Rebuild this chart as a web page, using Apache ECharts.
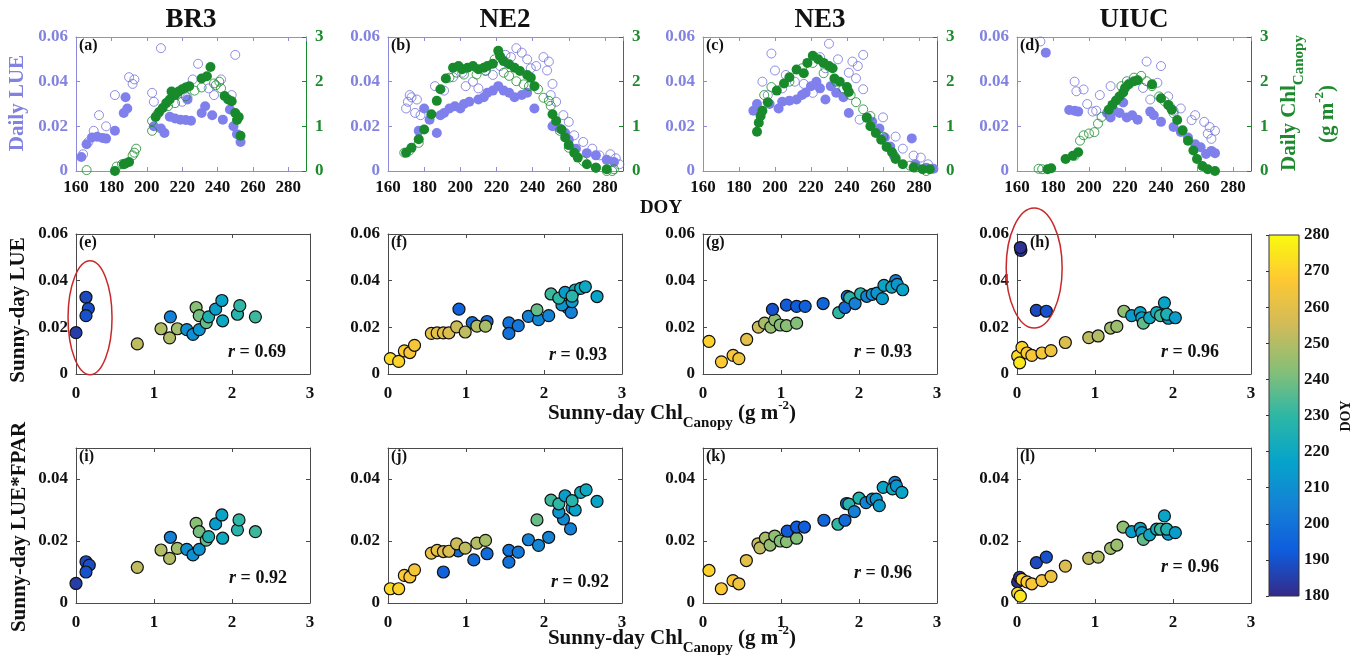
<!DOCTYPE html>
<html><head><meta charset="utf-8">
<script src="https://cdn.jsdelivr.net/npm/echarts@6/dist/echarts.min.js"></script>
<style>html,body{margin:0;padding:0;background:#fff}#c{width:1364px;height:659px}</style>
</head><body><div id="c"></div>
<script>
// ---------------- DATA ----------------
const SITES = ['BR3', 'NE2', 'NE3', 'UIUC'];
const PANEL_LETTERS = ['(a)','(b)','(c)','(d)','(e)','(f)','(g)','(h)','(i)','(j)','(k)','(l)'];
const R_MID = ['0.69', '0.93', '0.93', '0.96'];
const R_BOT = ['0.92', '0.92', '0.96', '0.96'];
const DOY_RANGE = [160, 290];
const CBAR_RANGE = [180, 280];

// top row: [DOY, value]
const BR3_LUE_SUNNY = [[163,0.0063],[166,0.012],[169,0.0150],[172,0.0153],[175,0.0148],[177,0.0145],[182,0.018],[187,0.026],[188,0.033],[189,0.028],[204,0.020],[208,0.019],[210,0.017],[213,0.0243],[216,0.0235],[219,0.023],[222,0.0228],[225,0.0225],[223,0.032],[231,0.026],[233,0.029],[237,0.025],[243,0.023],[247,0.0275],[249,0.020],[251,0.0165],[253,0.013]];
const BR3_LUE_CLOUDY = [[164,0.0075],[167,0.013],[170,0.018],[173,0.025],[177,0.020],[182,0.034],[190,0.042],[192,0.039],[193,0.041],[203,0.035],[204,0.031],[208,0.055],[217,0.034],[220,0.031],[223,0.033],[226,0.041],[229,0.048],[235,0.037],[238,0.034],[242,0.041],[248,0.034],[250,0.052]];
const BR3_CHL_SUNNY = [[182,0.0],[187,0.15],[188,0.17],[190,0.2],[205,1.21],[207,1.32],[209,1.41],[211,1.52],[213,1.6],[214,1.78],[216,1.7],[218,1.78],[220,1.83],[222,1.87],[224,1.9],[231,2.07],[234,2.12],[236,2.33],[244,1.68],[246,1.6],[248,1.56],[250,1.3],[251,1.14],[252,1.21],[253,0.79]];
const BR3_CHL_CLOUDY = [[166,0.02],[183,0.1],[186,0.15],[192,0.35],[193,0.41],[194,0.5],[203,0.9],[203,1.12],[206,1.27],[212,1.45],[216,1.52],[222,1.67],[227,1.8],[231,1.87],[238,1.96],[239,1.92],[241,2.0],[242,1.85]];

const NE2_LUE_SUNNY = [[177,0.018],[180,0.028],[183,0.023],[187,0.017],[189,0.025],[191,0.026],[194,0.028],[197,0.029],[200,0.028],[202,0.030],[205,0.031],[210,0.032],[213,0.033],[215,0.035],[218,0.036],[221,0.038],[224,0.036],[227,0.035],[230,0.033],[234,0.034],[237,0.035],[241,0.028],[251,0.020],[255,0.019],[258,0.017],[260,0.014],[264,0.010],[270,0.008],[275,0.007],[281,0.005],[285,0.004]];
const NE2_LUE_CLOUDY = [[170,0.028],[171,0.031],[172,0.034],[173,0.033],[175,0.026],[176,0.032],[178,0.025],[186,0.038],[191,0.036],[196,0.042],[201,0.044],[203,0.038],[207,0.040],[210,0.037],[214,0.045],[218,0.043],[222,0.047],[225,0.052],[228,0.051],[231,0.055],[234,0.053],[237,0.050],[239,0.046],[242,0.047],[246,0.051],[248,0.045],[249,0.049],[250,0.034],[251,0.039],[253,0.031],[257,0.025],[260,0.022],[263,0.016],[268,0.013],[273,0.010],[277,0.007],[283,0.0075],[286,0.0057],[288,0.003]];
const NE2_CHL_SUNNY = [[170,0.41],[173,0.52],[177,0.71],[180,0.93],[184,1.27],[187,1.57],[189,1.83],[192,2.07],[196,2.31],[199,2.35],[201,2.28],[204,2.31],[207,2.35],[210,2.28],[213,2.31],[215,2.35],[218,2.4],[221,2.69],[222,2.57],[224,2.46],[227,2.39],[230,2.31],[233,2.24],[237,2.15],[239,2.09],[241,1.9],[251,1.27],[253,1.12],[256,0.93],[258,0.75],[260,0.58],[263,0.41],[265,0.3],[270,0.15],[275,0.075],[281,0.04]];
const NE2_CHL_CLOUDY = [[169,0.41],[172,0.46],[177,0.63],[194,2.09],[198,2.2],[202,2.16],[209,2.16],[214,2.24],[219,2.5],[224,2.2],[227,2.13],[231,2.01],[235,1.94],[238,1.9],[243,1.83],[246,1.64],[249,1.57],[250,1.46],[255,0.9],[260,0.52],[268,0.22],[275,0.075],[281,0.0],[284,0.0],[285,0.04]];

const NE3_LUE_SUNNY = [[188,0.027],[190,0.030],[197,0.030],[202,0.028],[204,0.031],[208,0.0315],[212,0.032],[215,0.034],[217,0.035],[220,0.038],[223,0.040],[225,0.037],[228,0.032],[231,0.038],[234,0.035],[238,0.033],[241,0.026],[251,0.024],[254,0.022],[258,0.019],[261,0.015],[264,0.011],[266,0.007],[276,0.0146],[278,0.003],[284,0.0015],[288,0.001]];
const NE3_LUE_CLOUDY = [[193,0.040],[196,0.034],[198,0.0526],[200,0.045],[204,0.037],[206,0.043],[211,0.040],[216,0.039],[221,0.035],[225,0.051],[228,0.046],[230,0.057],[235,0.050],[241,0.044],[243,0.049],[245,0.0415],[246,0.047],[247,0.023],[249,0.0366],[249,0.052],[260,0.024],[267,0.0154],[271,0.010],[277,0.0069],[281,0.006],[285,0.003]];
const NE3_CHL_SUNNY = [[190,0.88],[191,1.08],[192,1.23],[193,1.35],[196,1.54],[201,1.8],[205,1.96],[208,2.1],[212,2.27],[216,2.19],[218,2.42],[221,2.58],[224,2.5],[227,2.42],[230,2.35],[232,2.3],[233,2.07],[236,2.0],[240,1.88],[241,1.77],[251,1.19],[253,1.0],[256,0.85],[259,0.7],[262,0.54],[265,0.42],[267,0.27],[271,0.15],[277,0.08],[282,0.04],[286,0.04]];
const NE3_CHL_CLOUDY = [[194,1.7],[198,1.88],[208,2.0],[215,2.3],[221,2.42],[227,2.19],[234,2.0],[238,1.85],[242,1.7],[245,1.54],[249,1.38],[253,1.23],[260,0.77],[267,0.3],[275,0.12],[278,0.08],[284,0.0]];

const UIUC_LUE_SUNNY = [[176,0.053],[189,0.0273],[192,0.027],[194,0.0266],[210,0.026],[212,0.024],[214,0.027],[217,0.026],[219,0.0307],[221,0.024],[224,0.025],[227,0.023],[234,0.0266],[236,0.025],[240,0.022],[247,0.0197],[251,0.0175],[255,0.015],[259,0.012],[262,0.0106],[265,0.0076],[268,0.009],[270,0.008]];
const UIUC_LUE_CLOUDY = [[173,0.058],[192,0.040],[193,0.0357],[197,0.0365],[199,0.030],[202,0.0266],[204,0.027],[206,0.034],[212,0.038],[223,0.0395],[230,0.0372],[232,0.049],[234,0.032],[238,0.0395],[240,0.047],[244,0.0334],[247,0.027],[251,0.028],[257,0.0228],[259,0.025],[264,0.022],[266,0.0167],[267,0.0197],[268,0.0144],[270,0.018]];
const UIUC_CHL_SUNNY = [[177,0.04],[179,0.06],[187,0.27],[191,0.34],[194,0.42],[211,1.37],[213,1.48],[215,1.58],[217,1.67],[219,1.76],[220,1.86],[222,1.94],[225,2.01],[227,2.03],[235,1.94],[240,1.63],[244,1.48],[246,1.37],[249,1.14],[252,0.91],[255,0.68],[258,0.46],[260,0.27],[263,0.11],[266,0.04],[270,0.0]];
const UIUC_CHL_CLOUDY = [[172,0.05],[174,0.04],[192,0.34],[195,0.68],[197,0.8],[200,0.84],[203,0.87],[205,1.06],[207,1.21],[218,1.9],[221,2.01],[225,2.09],[229,2.13],[232,2.01],[235,1.9],[239,1.67],[242,1.56],[245,1.44],[247,1.29]];

// middle row: [Chl, sunny LUE, DOY]
const BR3_SUNNY_LUE = [[0.0,0.0177,185],[0.128,0.0329,188],[0.158,0.028,189],[0.128,0.025,190],[0.786,0.0129,252],[1.09,0.0194,250],[1.2,0.0155,250],[1.3,0.0194,247],[1.21,0.0245,205],[1.42,0.019,210],[1.5,0.017,210],[1.58,0.019,212],[1.54,0.0285,243],[1.58,0.025,240],[1.67,0.022,238],[1.7,0.0245,225],[1.79,0.0278,215],[1.87,0.0315,218],[1.88,0.0228,220],[2.07,0.0256,228],[2.1,0.0293,230],[2.3,0.0245,232]];
const NE2_SUNNY_LUE = [[0.03,0.0066,272],[0.137,0.0054,270],[0.21,0.0099,268],[0.28,0.0092,266],[0.34,0.0123,265],[0.556,0.0174,262],[0.63,0.0176,261],[0.71,0.0176,260],[0.78,0.0176,258],[0.91,0.0278,195],[1.08,0.022,198],[1.27,0.0225,198],[0.88,0.0202,254],[0.99,0.018,252],[1.14,0.0205,250],[1.25,0.0205,248],[1.55,0.0219,200],[1.55,0.0174,200],[1.67,0.0207,202],[1.8,0.0247,205],[1.93,0.0233,207],[2.06,0.025,206],[1.91,0.0275,238],[2.31,0.0282,208],[2.35,0.0264,205],[2.23,0.0296,212],[2.36,0.031,214],[2.09,0.0343,232],[2.19,0.0325,230],[2.27,0.035,215],[2.4,0.036,220],[2.47,0.0367,222],[2.53,0.0374,220],[2.36,0.0334,228],[2.68,0.0332,218]];
const NE3_SUNNY_LUE = [[0.077,0.014,270],[0.236,0.0052,268],[0.386,0.008,266],[0.46,0.0066,264],[0.56,0.0148,260],[0.71,0.0201,254],[0.79,0.0218,248],[0.87,0.0201,245],[0.92,0.0232,244],[0.99,0.021,242],[1.07,0.0207,243],[1.2,0.0218,242],[0.89,0.0277,190],[1.07,0.0295,192],[1.2,0.029,193],[1.31,0.029,194],[1.54,0.0302,196],[1.74,0.0263,230],[1.82,0.0285,198],[1.85,0.0333,200],[1.88,0.0327,228],[1.95,0.0302,205],[2.02,0.0344,227],[2.1,0.0333,206],[2.17,0.0341,210],[2.23,0.0347,212],[2.3,0.0323,214],[2.47,0.04,205],[2.32,0.038,218],[2.42,0.0372,220],[2.49,0.0384,212],[2.56,0.0361,218]];
const UIUC_SUNNY_LUE = [[0.05,0.053,183],[0.043,0.0542,182],[0.248,0.0273,188],[0.376,0.0269,190],[0.0085,0.0077,272],[0.034,0.0048,275],[0.064,0.0114,270],[0.128,0.009,268],[0.19,0.008,266],[0.32,0.009,265],[0.436,0.01,263],[0.62,0.0135,258],[0.92,0.0156,252],[1.04,0.0163,250],[1.2,0.0197,247],[1.28,0.0204,246],[1.37,0.0269,244],[1.47,0.025,215],[1.58,0.0263,218],[1.6,0.0241,216],[1.62,0.0218,237],[1.7,0.0241,220],[1.79,0.0263,222],[1.84,0.025,232],[1.89,0.0305,218],[1.94,0.0239,215],[1.92,0.0256,225],[2.03,0.0241,215]];

// bottom row: [Chl, sunny LUE*FPAR, DOY]
const BR3_SUNNY_LUEFPAR = [[0.0,0.0063,185],[0.128,0.0133,188],[0.17,0.0122,189],[0.128,0.010,190],[0.786,0.0115,252],[1.09,0.0171,250],[1.2,0.0144,250],[1.3,0.0176,247],[1.21,0.0212,205],[1.42,0.0173,210],[1.5,0.0155,210],[1.58,0.0173,212],[1.54,0.0257,243],[1.58,0.023,240],[1.67,0.0203,238],[1.7,0.0214,225],[1.79,0.0255,215],[1.87,0.0284,218],[1.88,0.0209,220],[2.07,0.0236,228],[2.09,0.0268,230],[2.3,0.023,232]];
const NE2_SUNNY_LUEFPAR = [[0.03,0.0046,272],[0.137,0.0046,270],[0.21,0.0089,268],[0.28,0.0084,266],[0.34,0.0107,265],[0.9,0.0168,198],[0.556,0.0161,262],[0.63,0.017,261],[0.71,0.0166,260],[0.78,0.0167,258],[0.88,0.0191,254],[0.99,0.0177,252],[1.14,0.0193,250],[1.25,0.0202,248],[0.71,0.010,195],[1.1,0.0139,198],[1.27,0.0159,198],[1.55,0.017,200],[1.55,0.0132,200],[1.67,0.0164,202],[1.8,0.0204,205],[1.93,0.0186,207],[2.06,0.0212,206],[1.91,0.0268,238],[2.34,0.0239,205],[2.25,0.0271,208],[2.19,0.0293,212],[2.36,0.0307,214],[2.4,0.030,218],[2.09,0.0332,232],[2.19,0.032,230],[2.27,0.0346,215],[2.47,0.0357,222],[2.54,0.0365,220],[2.36,0.033,228],[2.68,0.0328,218]];
const NE3_SUNNY_LUEFPAR = [[0.077,0.0105,270],[0.235,0.0046,268],[0.385,0.0072,266],[0.46,0.0062,264],[0.556,0.0137,260],[0.705,0.0191,254],[0.73,0.0178,252],[0.8,0.0209,248],[0.86,0.0187,245],[0.92,0.0216,244],[0.99,0.020,242],[1.07,0.0198,243],[1.2,0.0209,242],[1.08,0.0232,192],[1.2,0.0245,193],[1.3,0.0245,194],[1.55,0.0267,196],[1.73,0.0254,230],[1.82,0.0267,198],[1.84,0.0321,200],[1.87,0.0319,228],[1.94,0.0295,205],[2.0,0.0338,227],[2.09,0.0324,206],[2.17,0.0335,210],[2.22,0.0335,212],[2.26,0.0314,214],[2.46,0.0389,205],[2.31,0.0373,218],[2.43,0.0368,220],[2.48,0.0378,212],[2.55,0.0357,218]];
const UIUC_SUNNY_LUEFPAR = [[0.0085,0.0068,182],[0.034,0.0083,183],[0.248,0.013,188],[0.376,0.0148,190],[0.0085,0.0032,272],[0.043,0.0022,275],[0.064,0.0076,270],[0.128,0.0068,268],[0.19,0.0062,266],[0.32,0.0072,265],[0.436,0.0086,263],[0.62,0.0119,258],[0.92,0.0144,252],[1.04,0.0148,250],[1.2,0.0176,247],[1.28,0.0187,246],[1.36,0.0245,244],[1.47,0.023,215],[1.58,0.0241,218],[1.6,0.0227,216],[1.62,0.0205,237],[1.7,0.022,220],[1.79,0.0238,222],[1.84,0.0238,232],[1.89,0.0281,218],[1.94,0.0222,215],[1.92,0.0238,225],[2.03,0.0227,215]];

const LUE_SUNNY = [BR3_LUE_SUNNY, NE2_LUE_SUNNY, NE3_LUE_SUNNY, UIUC_LUE_SUNNY];
const LUE_CLOUDY = [BR3_LUE_CLOUDY, NE2_LUE_CLOUDY, NE3_LUE_CLOUDY, UIUC_LUE_CLOUDY];
const CHL_SUNNY = [BR3_CHL_SUNNY, NE2_CHL_SUNNY, NE3_CHL_SUNNY, UIUC_CHL_SUNNY];
const CHL_CLOUDY = [BR3_CHL_CLOUDY, NE2_CHL_CLOUDY, NE3_CHL_CLOUDY, UIUC_CHL_CLOUDY];
const MID = [BR3_SUNNY_LUE, NE2_SUNNY_LUE, NE3_SUNNY_LUE, UIUC_SUNNY_LUE];
const BOT = [BR3_SUNNY_LUEFPAR, NE2_SUNNY_LUEFPAR, NE3_SUNNY_LUEFPAR, UIUC_SUNNY_LUEFPAR];

// ---------------- STYLE / LAYOUT ----------------
const SERIF = "'Times New Roman','Liberation Serif',serif";
const LAV = '#8080ec', LAV_OPEN = '#7272dc', LAV_TXT = '#8282e0', LAV_AX = '#8a8ad8';
const GRN = '#188a2c', GRN_TXT = '#1e8a2e';
const FRAME_TOP = '#8e8ed0', FRAME = '#4a4a4a';
const PARULA = ['#352A87','#0F5CDD','#1481D6','#06A4CA','#2EB7A4','#87BF77','#D1BB59','#FEC832','#F9FB0E'];
const COL_LEFT = [76, 388, 703, 1017];
const COL_W_TOP = [230, 235, 234, 234];
const COL_W = 234;
const ROWS = [{top: 37, h: 134}, {top: 234, h: 140}, {top: 448, h: 155}];

const chart = echarts.init(document.getElementById('c'), null, {renderer: 'canvas'});
const grids = [], xAxes = [], yAxes = [], series = [];

function common(color) {
  return {
    type: 'value',
    axisLine: {show: true, onZero: false, lineStyle: {color, width: 1}},
    axisTick: {show: true, inside: true, length: 4, lineStyle: {color, width: 1}},
    splitLine: {show: false}
  };
}
function lbl(color, margin, hideMax) {
  return {show: true, color, fontFamily: SERIF, fontWeight: 'bold', fontSize: 17, margin, showMaxLabel: !hideMax, showMinLabel: true};
}
function addGrid(g, left, top, width, height, xr, yr, xLab, yLab, rightAxis, frameX, frameY) {
  grids.push({left, top, width, height});
  xAxes.push(Object.assign(common(frameX), {gridIndex: g, position: 'bottom', min: xr[0], max: xr[1], interval: xr[2], axisLabel: xLab}));
  xAxes.push(Object.assign(common(frameX), {gridIndex: g, position: 'top', min: xr[0], max: xr[1], interval: xr[2], axisLabel: {show: false}}));
  yAxes.push(Object.assign(common(frameY), {gridIndex: g, position: 'left', min: yr[0], max: yr[1], interval: yr[2], axisLabel: yLab}));
  yAxes.push(rightAxis);
}

// top row
for (let c = 0; c < 4; c++) {
  const g = c;
  addGrid(g, COL_LEFT[c], ROWS[0].top, COL_W_TOP[c], ROWS[0].h,
    [DOY_RANGE[0], DOY_RANGE[1], 20], [0, 0.06, 0.02],
    lbl('#111', 8, true), lbl(LAV_TXT, 8, false),
    Object.assign(common(GRN), {gridIndex: g, position: 'right', min: 0, max: 3, interval: 1, axisLabel: lbl(GRN_TXT, 9, false)}),
    FRAME_TOP, LAV_AX);
  series.push({type: 'scatter', xAxisIndex: 2*g, yAxisIndex: 2*g, data: LUE_CLOUDY[c], symbolSize: 9,
    itemStyle: {color: 'rgba(0,0,0,0)', borderColor: LAV_OPEN, borderWidth: 1}});
  series.push({type: 'scatter', xAxisIndex: 2*g, yAxisIndex: 2*g, data: LUE_SUNNY[c], symbolSize: 10,
    itemStyle: {color: LAV, opacity: 1}});
  series.push({type: 'scatter', xAxisIndex: 2*g, yAxisIndex: 2*g+1, data: CHL_CLOUDY[c], symbolSize: 9,
    itemStyle: {color: 'rgba(0,0,0,0)', borderColor: GRN, borderWidth: 1}});
  series.push({type: 'scatter', xAxisIndex: 2*g, yAxisIndex: 2*g+1, data: CHL_SUNNY[c], symbolSize: 10,
    itemStyle: {color: GRN, opacity: 1}});
}
// middle and bottom rows
[[MID, 1, [0, 0.06, 0.02], false], [BOT, 2, [0, 0.05, 0.02], true]].forEach(([DATA, r, yr, hideMax]) => {
  for (let c = 0; c < 4; c++) {
    const g = 4*r + c;
    addGrid(g, COL_LEFT[c], ROWS[r].top, COL_W, ROWS[r].h, [0, 3, 1], yr,
      lbl('#111', 11, false), lbl('#111', 8, hideMax),
      Object.assign(common(FRAME), {gridIndex: g, position: 'right', min: yr[0], max: yr[1], interval: yr[2], axisLabel: {show: false}}),
      FRAME, FRAME);
    series.push({type: 'scatter', xAxisIndex: 2*g, yAxisIndex: 2*g, data: DATA[c], symbolSize: 12,
      itemStyle: {borderColor: '#111', borderWidth: 1.2, opacity: 1}});
  }
});
// colorbar grid
grids.push({left: 1269, top: 235, width: 30, height: 361, show: true, borderColor: '#333', borderWidth: 1,
  backgroundColor: {type: 'linear', x: 0, y: 1, x2: 0, y2: 0,
    colorStops: PARULA.map((col, i) => ({offset: i / (PARULA.length - 1), color: col}))}});
xAxes.push({gridIndex: 12, type: 'value', show: false, min: 0, max: 1});
yAxes.push({gridIndex: 12, type: 'value', position: 'right', min: CBAR_RANGE[0], max: CBAR_RANGE[1], interval: 10,
  axisLine: {show: false}, axisTick: {show: true, inside: true, length: 3, lineStyle: {color: '#333'}},
  splitLine: {show: false},
  axisLabel: {show: true, color: '#111', fontFamily: SERIF, fontWeight: 'bold', fontSize: 17, margin: 5}});

const seriesIdx = []; for (let i = 16; i < 24; i++) seriesIdx.push(i);

chart.setOption({
  animation: false,
  backgroundColor: '#fff',
  grid: grids, xAxis: xAxes, yAxis: yAxes, series,
  visualMap: {type: 'continuous', show: false, min: CBAR_RANGE[0], max: CBAR_RANGE[1], dimension: 2,
    seriesIndex: seriesIdx, inRange: {color: PARULA}}
});

// ---------------- TEXT / ANNOTATIONS ----------------
function T(x, y, text, o) {
  o = o || {};
  const st = {text, fill: o.color || '#111', fontFamily: SERIF, fontWeight: o.weight || 'bold',
    fontSize: o.size || 17, fontStyle: o.style || 'normal', align: o.align || 'center', verticalAlign: o.va || 'middle'};
  if (o.rich) st.rich = o.rich;
  return {type: 'text', x, y, rotation: o.rot || 0, silent: true, z: 100, style: st};
}
const gr = [];
const titleX = [191, 505, 820, 1134];
SITES.forEach((s, c) => gr.push(T(titleX[c], 20, s, {size: 27})));
// panel letters
for (let g = 0; g < 12; g++) {
  const r = Math.floor(g / 4), c = g % 4;
  const dx = (g === 7) ? 13 : 3;
  gr.push(T(COL_LEFT[c] + dx, ROWS[r].top + 1, PANEL_LETTERS[g], {size: 16, align: 'left', va: 'top'}));
}
// r values
const rPosMid = [[257,352],[578,355],[883,352],[1190,352]];
const rPosBot = [[258,578],[580,582],[883,573],[1190,567]];
const rRich = {i: {fontStyle: 'italic', fontWeight: 'bold', fontFamily: SERIF, fontSize: 18, fill: '#111'},
  n: {fontWeight: 'bold', fontFamily: SERIF, fontSize: 18, fill: '#111'}};
for (let c = 0; c < 4; c++) {
  gr.push(T(rPosMid[c][0], rPosMid[c][1], '{i|r}{n| = ' + R_MID[c] + '}', {rich: rRich, size: 18}));
  gr.push(T(rPosBot[c][0], rPosBot[c][1], '{i|r}{n| = ' + R_BOT[c] + '}', {rich: rRich, size: 18}));
}
// axis names
gr.push(T(18, 103, 'Daily LUE', {size: 21, color: LAV_TXT, rot: Math.PI / 2}));
gr.push(T(19, 310, 'Sunny-day LUE', {size: 21, rot: Math.PI / 2}));
gr.push(T(20, 527, 'Sunny-day LUE*FPAR', {size: 21, rot: Math.PI / 2}));
gr.push(T(661, 208, 'DOY', {size: 19}));
const chlRich = (color) => ({
  m: {fontSize: 21, fontWeight: 'bold', fontFamily: SERIF, fill: color},
  s: {fontSize: 15, fontWeight: 'bold', fontFamily: SERIF, fill: color, padding: [18, 0, 0, 0]},
  p: {fontSize: 13, fontWeight: 'bold', fontFamily: SERIF, fill: color, padding: [0, 0, 16, 0]}
});
gr.push(T(672, 414, '{m|Sunny-day Chl}{s|Canopy}{m| (g m}{p|-2}{m|)}', {rich: chlRich('#111'), size: 21}));
gr.push(T(672, 639, '{m|Sunny-day Chl}{s|Canopy}{m| (g m}{p|-2}{m|)}', {rich: chlRich('#111'), size: 21}));
gr.push(T(1290, 103, '{m|Daily Chl}{s|Canopy}', {rich: chlRich(GRN_TXT), size: 21, rot: Math.PI / 2}));
gr.push(T(1328, 114, '{m|(g m}{p|-2}{m|)}', {rich: chlRich(GRN_TXT), size: 21, rot: Math.PI / 2}));
gr.push(T(1346, 416, 'DOY', {size: 14, rot: Math.PI / 2}));

// red ellipses around the early-season points (panels e and h)
const ELLIPSES = [{series: 16, at: [0.18, 0.0241], rx: 22, ry: 57}, {series: 19, at: [0.22, 0.0454], rx: 28, ry: 60}];
ELLIPSES.forEach(e => {
  const p = chart.convertToPixel({seriesIndex: e.series}, e.at);
  gr.push({type: 'ellipse', silent: true, z: 90, shape: {cx: p[0], cy: p[1], rx: e.rx, ry: e.ry},
    style: {fill: 'none', stroke: '#c8282a', lineWidth: 1.5}});
});
chart.setOption({graphic: {elements: gr}});
</script></body></html>
